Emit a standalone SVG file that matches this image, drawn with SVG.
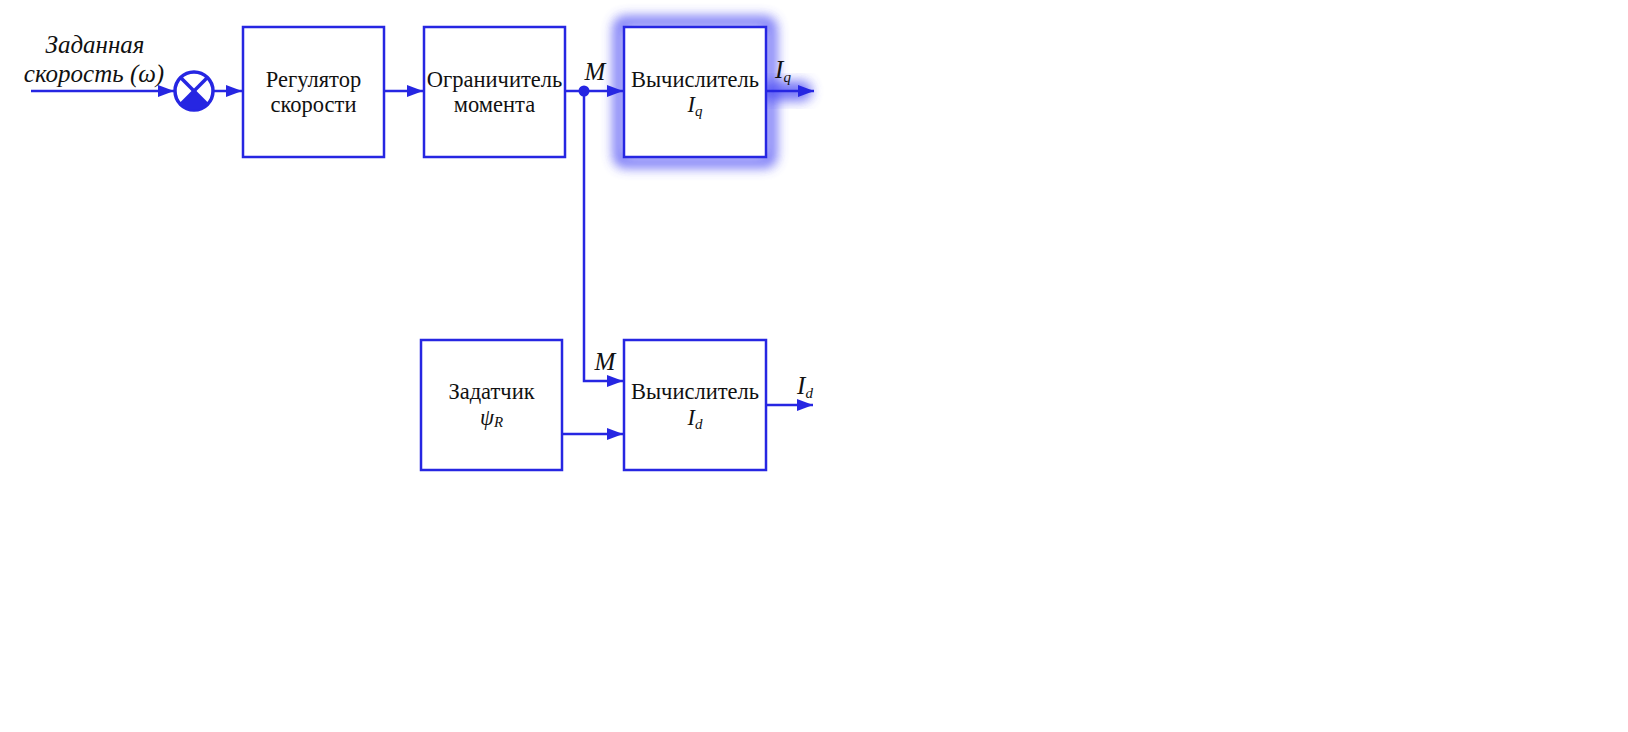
<svg xmlns="http://www.w3.org/2000/svg" width="1628" height="732" viewBox="0 0 1628 732">
<defs>
<style>
.box{fill:#fff;stroke:#2626e2;stroke-width:2.5}
.ln{fill:none;stroke:#2626e2;stroke-width:2.5}
.t{font-family:"Liberation Serif","Times New Roman",serif;font-size:22.5px;fill:#111;text-anchor:middle}
.i{font-style:italic}
.lbl{font-size:25px}
.sub{font-size:15px}
</style>
<marker id="arr" viewBox="0 0 16 12" refX="16" refY="6" markerWidth="16" markerHeight="12" markerUnits="userSpaceOnUse" orient="auto">
<path d="M0,0 L16,6 L0,12 z" fill="#2626e2"/>
</marker>
<filter id="glow" x="-40%" y="-40%" width="180%" height="180%">
<feGaussianBlur stdDeviation="6"/>
</filter>
</defs>
<rect width="1628" height="732" fill="#fff"/>

<g id="glow-effects">
<rect x="619" y="22" width="152" height="140" rx="6" fill="none" stroke="#4848f4" stroke-width="12" filter="url(#glow)" opacity="0.75"/>
<rect x="760" y="81" width="52" height="20" rx="10" fill="#4848f4" filter="url(#glow)" opacity="0.75"/>
</g>

<g id="connectors">
<line class="ln" x1="31" y1="91" x2="174" y2="91" marker-end="url(#arr)"/>
<line class="ln" x1="213" y1="91" x2="242" y2="91" marker-end="url(#arr)"/>
<line class="ln" x1="384" y1="91" x2="423" y2="91" marker-end="url(#arr)"/>
<line class="ln" x1="565" y1="91" x2="623" y2="91" marker-end="url(#arr)"/>
<circle cx="584" cy="91" r="5.5" fill="#2626e2"/>
<polyline class="ln" points="584,91 584,381 623,381" marker-end="url(#arr)"/>
<line class="ln" x1="562" y1="434" x2="623" y2="434" marker-end="url(#arr)"/>
<line class="ln" x1="766" y1="91" x2="814" y2="91" marker-end="url(#arr)"/>
<line class="ln" x1="766" y1="405" x2="813" y2="405" marker-end="url(#arr)"/>
</g>

<g id="input-label">
<text class="t i lbl" x="95" y="53">Заданная</text>
<text class="t i lbl" x="94" y="82">скорость (ω)</text>
</g>

<g id="sum">
<circle cx="194" cy="91" r="19" fill="#fff" stroke="#2626e2" stroke-width="3.5"/>
<path d="M194,91 L207.4,104.4 A19,19 0 0 1 180.6,104.4 Z" fill="#2626e2"/>
<line x1="180.6" y1="77.6" x2="207.4" y2="104.4" stroke="#2626e2" stroke-width="3.5"/>
<line x1="207.4" y1="77.6" x2="180.6" y2="104.4" stroke="#2626e2" stroke-width="3.5"/>
</g>

<g id="reg">
<rect class="box" x="243" y="27" width="141" height="130"/>
<text class="t" x="313.5" y="87">Регулятор</text>
<text class="t" x="313.5" y="112">скорости</text>
</g>

<g id="lim">
<rect class="box" x="424" y="27" width="141" height="130"/>
<text class="t" x="494.5" y="87">Ограничитель</text>
<text class="t" x="494.5" y="112">момента</text>
</g>

<g id="calc-q">
<rect class="box" x="624" y="27" width="142" height="130"/>
<text class="t" x="695" y="87">Вычислитель</text>
<text class="t i" x="695" y="112">I<tspan class="sub" dy="4">q</tspan></text>
</g>

<g id="zad">
<rect class="box" x="421" y="340" width="141" height="130"/>
<text class="t" x="491.5" y="399">Задатчик</text>
<text class="t" x="491.5" y="425"><tspan class="i">ψ</tspan><tspan class="i sub" dy="2">R</tspan></text>
</g>

<g id="calc-d">
<rect class="box" x="624" y="340" width="142" height="130"/>
<text class="t" x="695" y="399">Вычислитель</text>
<text class="t i" x="695" y="425">I<tspan class="sub" dy="4">d</tspan></text>
</g>

<g id="labels">
<text class="t i lbl" x="595" y="80">M</text>
<text class="t i lbl" x="783" y="78">I<tspan class="sub" dy="4">q</tspan></text>
<text class="t i lbl" x="605" y="370">M</text>
<text class="t i lbl" x="805" y="394">I<tspan class="sub" dy="4">d</tspan></text>
</g>
</svg>
